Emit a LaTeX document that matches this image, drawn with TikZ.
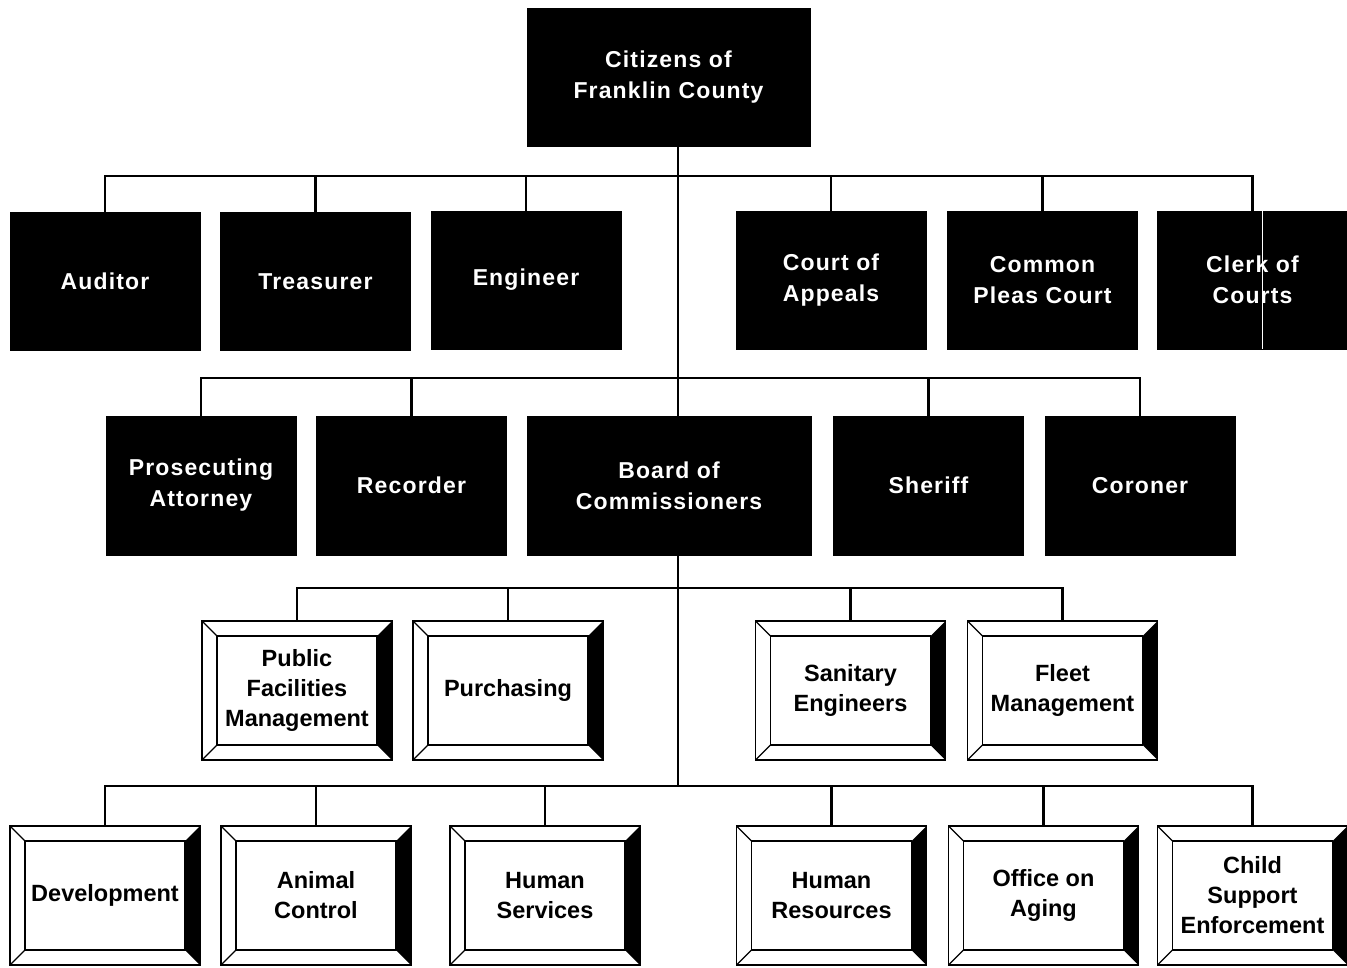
\documentclass[tikz,border=0pt]{standalone}
\usepackage{fontspec}
\setmainfont{Liberation Sans}
\newfontfamily\officefont[LetterSpace=5]{Liberation Sans}
\begin{document}
\begin{tikzpicture}[x=1pt,y=-1pt,
  office/.style={draw=black, fill=black, text=white, minimum width=190pt, minimum height=138pt,
    inner sep=0pt, align=center, font=\officefont\bfseries\fontsize{23}{31}\selectfont},
  dept/.style={draw=black, line width=1.4pt, fill=white, minimum width=190pt, minimum height=139pt,
    inner sep=0pt, align=center, font=\bfseries\fontsize{23.5}{30}\selectfont,
    path picture={
      \fill[black] (path picture bounding box.north east) -- ([shift={(-15pt,-15pt)}]path picture bounding box.north east)
        -- ([shift={(-15pt,15pt)}]path picture bounding box.south east) -- (path picture bounding box.south east) -- cycle;
      \draw[line width=1.2pt] ([shift={(15pt,-15pt)}]path picture bounding box.north west)
        rectangle ([shift={(-15pt,15pt)}]path picture bounding box.south east);
      \draw[line width=1.2pt] (path picture bounding box.north west) -- ([shift={(15pt,-15pt)}]path picture bounding box.north west);
      \draw[line width=1.2pt] (path picture bounding box.south west) -- ([shift={(15pt,15pt)}]path picture bounding box.south west);
    }},
  link/.style={line width=2.6pt}]
\useasboundingbox (0,0) rectangle (1347,967);

% bus levels
\coordinate (bus1) at (0,176);
\coordinate (bus2) at (0,378);
\coordinate (bus3) at (0,588);
\coordinate (bus4) at (0,786);
\coordinate (trunkend) at (678,786);

% top
\node[office, minimum width=283pt] (citizens) at (668.5,77) {Citizens of\\Franklin County};

% elected offices
\node[office] (auditor) at (105,281.5) {Auditor};
\node[office] (treasurer) at (315.5,281.5) {Treasurer};
\node[office] (engineer) at (526,280) {Engineer};
\node[office] (appeals) at (831,280) {Court of\\Appeals};
\node[office] (pleas) at (1042.5,280) {Common\\Pleas Court};
\node[office] (clerk) at (1252.5,280) {Clerk of\\Courts};

\node[office, minimum height=139pt] (prosecutor) at (201,485.5) {Prosecuting\\Attorney};
\node[office, minimum height=139pt] (recorder) at (411.5,485.5) {Recorder};
\node[office, minimum width=284pt, minimum height=139pt] (board) at (669,485.5) {Board of\\Commissioners};
\node[office, minimum height=139pt] (sheriff) at (928.5,485.5) {Sheriff};
\node[office, minimum height=139pt] (coroner) at (1140,485.5) {Coroner};

% departments
\node[dept] (facilities) at (297,690.5) {Public\\Facilities\\Management};
\node[dept] (purchasing) at (508,690.5) {Purchasing};
\node[dept] (sanitary) at (850.5,690.5) {Sanitary\\Engineers};
\node[dept] (fleet) at (1062.5,690.5) {Fleet\\Management};

\node[dept] (development) at (105,895.5) {Development};
\node[dept] (animal) at (316,895.5) {Animal\\Control};
\node[dept] (humanserv) at (545,895.5) {Human\\Services};
\node[dept] (humanres) at (831.5,895.5) {Human\\Resources};
\node[dept] (aging) at (1043.5,895.5) {Office on\\Aging};
\node[dept] (childsupport) at (1252.5,895.5) {Child\\Support\\Enforcement};

% connectors
\draw[link] (citizens.south -| trunkend) -- (board.north -| trunkend);
\draw[link] (board.south -| trunkend) -- (trunkend);

\draw[link] (auditor.north) -- (auditor.north |- bus1) -- (clerk.north |- bus1) -- (clerk.north);
\foreach \n in {treasurer,engineer,appeals,pleas}
  \draw[link] (\n.north) -- (\n.north |- bus1);

\draw[link] (prosecutor.north) -- (prosecutor.north |- bus2) -- (coroner.north |- bus2) -- (coroner.north);
\foreach \n in {recorder,sheriff}
  \draw[link] (\n.north) -- (\n.north |- bus2);

\draw[link] (facilities.north) -- (facilities.north |- bus3) -- (fleet.north |- bus3) -- (fleet.north);
\foreach \n in {purchasing,sanitary}
  \draw[link] (\n.north) -- (\n.north |- bus3);

\draw[link] (development.north) -- (development.north |- bus4) -- (childsupport.north |- bus4) -- (childsupport.north);
\foreach \n in {animal,humanserv,humanres,aging}
  \draw[link] (\n.north) -- (\n.north |- bus4);

% white streak through clerk box
\draw[white, line width=1pt] ([xshift=10pt]clerk.north) -- ([xshift=10pt]clerk.south);
\end{tikzpicture}
\end{document}
